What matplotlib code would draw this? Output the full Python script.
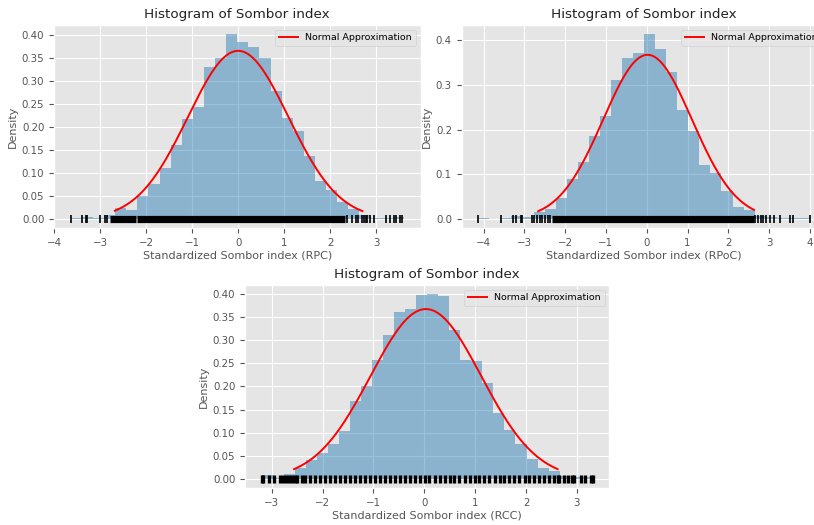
import numpy as np
import matplotlib
matplotlib.use("Agg")
import matplotlib.pyplot as plt
from matplotlib.ticker import MultipleLocator

plt.style.use("ggplot")
plt.rcParams["font.family"] = ["DejaVu Sans"]

# ---------------- data ----------------
title = "Histogram of Sombor index"
legend_label = "Normal Approximation"

xlabels = ["Standardized Sombor index (RPC)",
           "Standardized Sombor index (RPoC)",
           "Standardized Sombor index (RCC)"]

# histogram ranges (data min / max) and 30 equal bins
hist_ranges = [(-3.64, 3.60), (-4.13, 4.00), (-3.20, 3.31)]
n_bins = 30

rpc_density = [0.002, 0.005, 0.003, 0.009, 0.024, 0.020, 0.049, 0.076, 0.111, 0.161,
               0.217, 0.243, 0.329, 0.350, 0.401, 0.385, 0.374, 0.349, 0.278, 0.219,
               0.191, 0.137, 0.083, 0.064, 0.036, 0.022, 0.008, 0.003, 0.002, 0.004]
rpoc_density = [0.002, 0.000, 0.002, 0.006, 0.005, 0.015, 0.022, 0.048, 0.089, 0.128,
                0.186, 0.231, 0.311, 0.361, 0.371, 0.413, 0.381, 0.328, 0.244, 0.197,
                0.120, 0.104, 0.063, 0.026, 0.020, 0.007, 0.004, 0.002, 0.003, 0.002]
rcc_density = [0.008, 0.002, 0.010, 0.023, 0.041, 0.056, 0.076, 0.104, 0.168, 0.200,
               0.257, 0.312, 0.361, 0.368, 0.397, 0.399, 0.396, 0.322, 0.257, 0.255,
               0.207, 0.142, 0.106, 0.075, 0.043, 0.024, 0.018, 0.007, 0.004, 0.005]

# normal approximation: (mu, sigma, x_start, x_end)
rpc_norm = (0.00, 1.093, -2.68, 2.70)
rpoc_norm = (0.02, 1.087, -2.66, 2.63)
rcc_norm = (0.03, 1.087, -2.56, 2.62)

# rug: isolated tick values and dense (solid) core segments
rpc_rug = [-3.64, -3.39, -3.31, -3.28, -3.00, -2.90, -2.86,
           2.37, 2.48, 2.56, 2.61, 2.68, 2.73, 2.77, 2.81, 2.87, 2.96,
           3.22, 3.31, 3.38, 3.44, 3.51, 3.57]
rpc_core = [(-2.78, -2.225), (-2.205, 2.33)]

rpoc_rug = [-4.13, -3.57, -3.27, -3.21, -3.09, -3.05, -2.82, -2.76, -2.68, -2.61,
            -2.56, -2.49, -2.43, -2.38,
            2.66, 2.72, 2.79, 2.85, 2.93, 3.01, 3.11, 3.27, 3.50, 3.58, 3.99]
rpoc_core = [(-2.32, 2.62)]

rcc_rug = [-3.20, -3.17, -3.05, -2.96, -2.83, -2.78, -2.72, -2.67, -2.60, -2.54,
           -2.51, -2.41, -2.34,
           -2.25, -2.15, -2.05, -1.95, -1.86, -1.76, -1.66, -1.56, -1.46, -1.37,
           -1.27, -1.17, -1.07, -0.97, -0.88, -0.78, -0.68, -0.58, -0.48, -0.39,
           -0.29, -0.19, -0.09, 0.01, 0.10, 0.20, 0.30, 0.40, 0.50, 0.59,
           0.69, 0.79, 0.89, 0.99, 1.08, 1.18, 1.28, 1.38, 1.48, 1.57,
           1.67, 1.77, 1.87, 1.97, 2.06, 2.16, 2.26, 2.36, 2.46, 2.55,
           2.62, 2.65, 2.75, 2.82, 2.91, 2.95, 3.08, 3.15, 3.28, 3.31]
rcc_core = []

# ---------------- layout (pixels) ----------------
W, H = 814, 525
fig = plt.figure(figsize=(W / 100, H / 100), dpi=100)


def px_axes(left, top, right, bottom):
    return fig.add_axes([left / W, 1 - bottom / H, (right - left) / W, (bottom - top) / H])


axes = [px_axes(54, 25, 420.5, 228.3),
        px_axes(461.7, 25, 826.5, 228.3),
        px_axes(245, 285, 609.3, 488.3)]

densities = [rpc_density, rpoc_density, rcc_density]
norms = [rpc_norm, rpoc_norm, rcc_norm]
rugs = [rpc_rug, rpoc_rug, rcc_rug]
cores = [rpc_core, rpoc_core, rcc_core]
ystep = [0.05, 0.1, 0.05]
rug_mew = [1.2, 1.2, 2.4]

for i, ax in enumerate(axes):
    lo, hi = hist_ranges[i]
    edges = np.linspace(lo, hi, n_bins + 1)
    ax.bar(edges[:-1], densities[i], width=np.diff(edges), align="edge",
           color="#1f77b4", alpha=0.45, linewidth=0, zorder=2)
    mu, sd, x0, x1 = norms[i]
    xs = np.linspace(x0, x1, 300)
    ax.plot(xs, np.exp(-0.5 * ((xs - mu) / sd) ** 2) / (sd * np.sqrt(2 * np.pi)),
            color="red", lw=1.4, label=legend_label, zorder=4)
    ax.plot(rugs[i], np.zeros(len(rugs[i])), "|", color="black", ms=5.2,
            mew=rug_mew[i], zorder=3)
    for a, b in cores[i]:
        ax.plot([a, b], [0, 0], color="black", lw=5.2, solid_capstyle="butt", zorder=3)
    ymax = max(densities[i])
    ax.set_ylim(-0.05 * ymax, 1.05 * ymax)
    span = hi - lo
    ax.set_xlim(lo - 0.05 * span, hi + 0.05 * span)
    ax.xaxis.set_major_locator(MultipleLocator(1))
    ax.yaxis.set_major_locator(MultipleLocator(ystep[i]))
    ax.tick_params(labelsize=7.4, colors="#555555")
    ax.set_title(title, fontsize=9.7, color="#222222", pad=5)
    ax.set_xlabel(xlabels[i], fontsize=8.0, color="#555555", labelpad=2)
    ax.set_ylabel("Density", fontsize=8.0, color="#555555", labelpad=3)
    ax.legend(loc="upper right", fontsize=6.8)

fig.savefig("out.png", dpi=100)
